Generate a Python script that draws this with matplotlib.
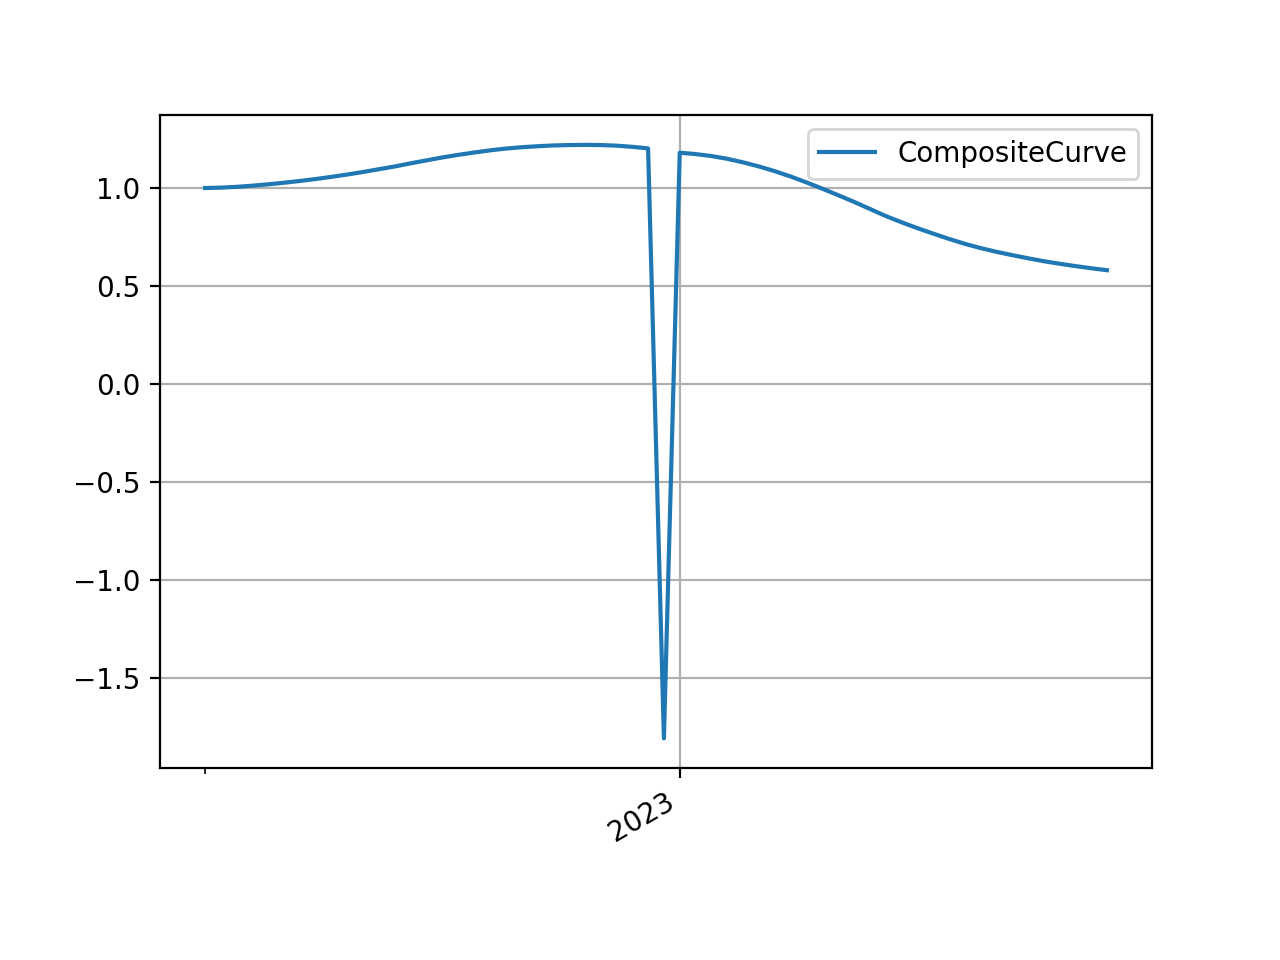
import numpy as np
import pandas as pd
import matplotlib
matplotlib.use("Agg")
import matplotlib.pyplot as plt
import matplotlib.dates as mdates
from matplotlib.ticker import FixedLocator

# -------------------------- Data --------------------------
# weekly observations, Sundays
START_DATE = "2022-06-05"
N_WEEKS = 58
dates = pd.date_range(START_DATE, periods=N_WEEKS, freq="7D")

# values, one per week
values = [
    1.000, 1.002, 1.006, 1.012, 1.019, 1.027, 1.036, 1.046, 1.057, 1.069,
    1.082, 1.096, 1.110, 1.126, 1.141, 1.156, 1.169, 1.181, 1.192, 1.201,
    1.208, 1.213, 1.217, 1.219, 1.220, 1.219, 1.216, 1.210, 1.202, -1.806,
    1.180, 1.173, 1.163, 1.149, 1.131, 1.110, 1.086, 1.059, 1.029, 0.997,
    0.964, 0.930, 0.894, 0.858, 0.826, 0.796, 0.768, 0.741, 0.716, 0.694,
    0.675, 0.658, 0.642, 0.627, 0.614, 0.602, 0.591, 0.581,
]
label = "CompositeCurve"

# -------------------------- Plot --------------------------
fig, ax = plt.subplots(figsize=(6.4, 4.8), dpi=200)
ax.plot(dates, values, label=label)

ax.xaxis.set_major_locator(mdates.YearLocator())
ax.xaxis.set_major_formatter(mdates.DateFormatter("%Y"))
ax.xaxis.set_minor_locator(FixedLocator([mdates.date2num(dates[0])]))

ax.grid(True)
ax.legend(loc="upper right")
fig.autofmt_xdate()

fig.savefig("out.png", dpi=200)
